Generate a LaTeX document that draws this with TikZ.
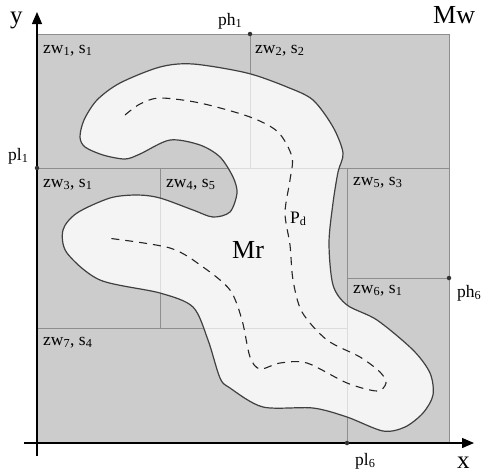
\documentclass[tikz,border=0pt]{standalone}
\usepackage{fontspec}
\setmainfont{Liberation Serif}
\usetikzlibrary{arrows.meta}
\definecolor{zonegray}{HTML}{CCCCCC}
\definecolor{linegray}{HTML}{8E8E8E}
\definecolor{lightline}{HTML}{DCDCDC}
\definecolor{mrfill}{HTML}{F4F4F4}
\definecolor{outline}{HTML}{404040}
\newcommand\MrPlot[1]{\path[#1] plot[smooth cycle, tension=0.5] coordinates {(80,137) (84,120) (97,100) (120,83) (160,67) (193,64) (247,73) (287,87) (313,100) (333,127) (343,153) (338,172) (333,203) (329,243) (333,285) (347,305) (377,320) (413,350) (430,373) (433,395) (423,413) (405,427) (383,431) (347,417) (313,408) (263,407) (230,388) (220,378) (208,340) (193,307) (160,293) (100,280) (67,253) (63,230) (77,213) (110,198) (137,195) (160,198) (193,210) (213,217) (230,212) (237,193) (233,177) (220,157) (200,145) (170,140) (140,154) (125,159) (103,155) (85,147)};}
\newcommand\PartLines[1]{%
  \draw[#1] (ph1) -- (250,168);
  \draw[#1] (pl1) -- (449,168);
  \draw[#1] (160,168) -- (160,328);
  \draw[#1] (347,168) -- (pl6);
  \draw[#1] (347,278) -- (ph6);
  \draw[#1] (37,328) -- (347,328);}
\begin{document}
\begin{tikzpicture}[x=1pt,y=-1pt,
  zonelabel/.style={anchor=base west, inner sep=0pt, font=\fontsize{17.5}{20}\selectfont},
  ptlabel/.style={anchor=base west, inner sep=0pt, font=\fontsize{17.5}{20}\selectfont},
  biglabel/.style={anchor=base west, inner sep=0pt, font=\fontsize{26}{30}\selectfont},
  axislabel/.style={anchor=base west, inner sep=0pt, font=\fontsize{25}{28}\selectfont},
  axisline/.style={line width=1.3pt, black, -{Triangle[length=12pt,width=10pt]}},
  dot/.style={circle, fill=black!80, inner sep=0pt, minimum size=4.5pt}]
\useasboundingbox (0,0) rectangle (481,475);
\coordinate (ph1) at (250,34);
\coordinate (pl1) at (37,168);
\coordinate (ph6) at (449,278);
\coordinate (pl6) at (347,443);
\coordinate (ybot) at (37,456);
\coordinate (ytop) at (37,12);
\coordinate (xleft) at (24,443);
\coordinate (xright) at (474,443);
% zones
\fill[zonegray] (37,34) rectangle (449,443);
\PartLines{linegray, line width=1pt}
% free region Mr
\MrPlot{fill=mrfill}
\begin{scope}
  \MrPlot{clip}
  \PartLines{lightline, line width=1pt}
\end{scope}
\MrPlot{draw=outline, line width=1.2pt}
\draw[linegray, line width=1pt] (37,34) rectangle (449,443);
% path Pd
\draw[black!85, line width=1.1pt, dash pattern=on 8pt off 6pt] plot[smooth, tension=0.5] coordinates {(125,115) (140,104) (160,98) (200,103) (250,117) (278,132) (292,157) (290,180) (285,213) (290,245) (293,280) (302,312) (327,340) (360,357) (380,372) (386,383) (377,391) (347,383) (307,363) (280,363) (260,369) (250,357) (242,320) (230,290) (203,267) (170,248) (107,238)};
% axes
\draw[axisline] (ybot) -- (ytop);
\draw[axisline] (xleft) -- (xright);
\node[dot] (dph1) at (ph1) {};
\node[dot] (dpl1) at (pl1) {};
\node[dot] (dph6) at (ph6) {};
\node[dot] (dpl6) at (pl6) {};
% labels
\node[axislabel] (ly) at (10,23) {y};
\node[axislabel] (lx) at (457,468) {x};
\node[biglabel] (lmw) at (433,23) {Mw};
\node[biglabel] (lmr) at (232,258) {Mr};
\node[ptlabel] (lph1) at (218,25) {ph\textsubscript{1}};
\node[ptlabel] (lpl1) at (8,160) {pl\textsubscript{1}};
\node[ptlabel] (lph6) at (457,297) {ph\textsubscript{6}};
\node[ptlabel] (lpl6) at (355,465) {pl\textsubscript{6}};
\node[ptlabel] (lpd) at (290,223) {P\textsubscript{d}};
\node[zonelabel] (z1) at (43,53) {zw\textsubscript{1}, s\textsubscript{1}};
\node[zonelabel] (z2) at (255,53) {zw\textsubscript{2}, s\textsubscript{2}};
\node[zonelabel] (z3) at (43,187) {zw\textsubscript{3}, s\textsubscript{1}};
\node[zonelabel] (z4) at (166,187) {zw\textsubscript{4}, s\textsubscript{5}};
\node[zonelabel] (z5) at (353,185) {zw\textsubscript{5}, s\textsubscript{3}};
\node[zonelabel] (z6) at (353,293) {zw\textsubscript{6}, s\textsubscript{1}};
\node[zonelabel] (z7) at (43,345) {zw\textsubscript{7}, s\textsubscript{4}};
\end{tikzpicture}
\end{document}
